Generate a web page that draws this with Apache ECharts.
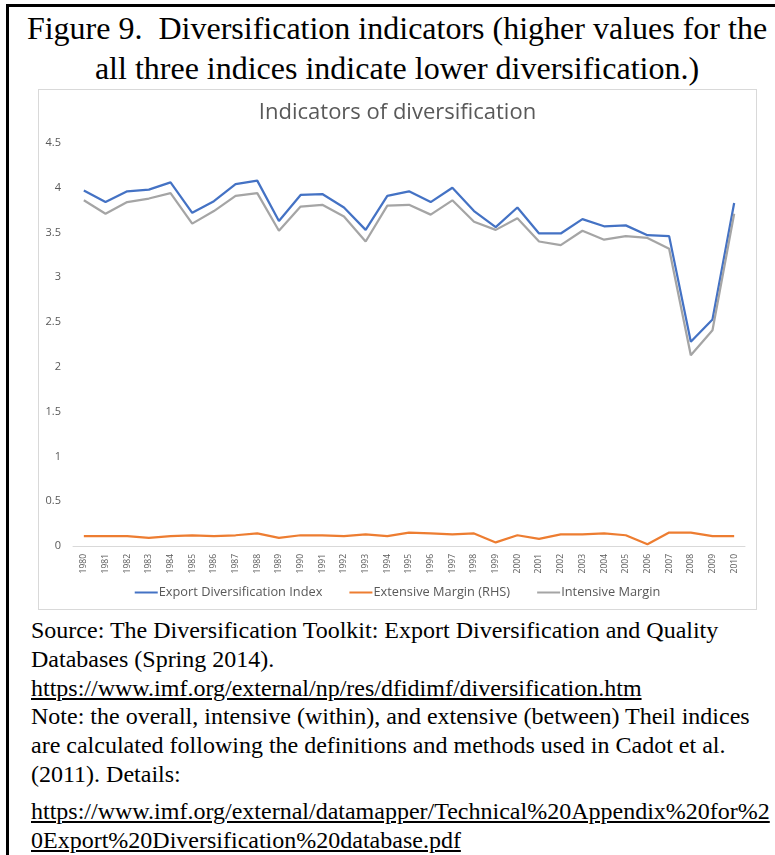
<!DOCTYPE html>
<html>
<head>
<meta charset="utf-8">
<script src="https://cdn.jsdelivr.net/npm/echarts@6/dist/echarts.min.js"></script>
<style>
  html, body { margin: 0; padding: 0; background: #fff; }
  body { width: 775px; height: 855px; position: relative; overflow: hidden; }
  #frame {
    position: absolute; left: 6px; top: 4px; width: 900px; height: 900px;
    border-left: 3px solid #000; border-top: 3px solid #000;
  }
  #heading {
    position: absolute; left: 9px; top: 8px; width: 776px;
    font-family: "Liberation Serif", "Times New Roman", serif;
    font-size: 32px; line-height: 40px; text-align: center; color: #000;
    white-space: nowrap;
  }
  #chart {
    position: absolute; left: 38px; top: 89px; width: 719px; height: 521px;
    box-sizing: border-box; border: 1px solid #d9d9d9; background: #fff;
  }
  #notes {
    position: absolute; left: 31px; top: 616px;
    font-family: "Liberation Serif", "Times New Roman", serif;
    font-size: 24px; line-height: 28.8px; color: #000; white-space: nowrap;
  }
  #notes .gap { display: block; height: 8px; }
  #notes a { color: #000; text-decoration: underline; }
</style>
</head>
<body>
<div id="frame"></div>
<div id="heading">Figure 9.&nbsp; Diversification indicators (higher values for the<br>all three indices indicate lower diversification.)</div>
<div id="chart"></div>
<div id="notes">Source: The Diversification Toolkit: Export Diversification and Quality<br>Databases (Spring 2014).<br><a>https://www.imf.org/external/np/res/dfidimf/diversification.htm</a><br>Note: the overall, intensive (within), and extensive (between) Theil indices<br>are calculated following the definitions and methods used in Cadot et al.<br>(2011). Details:<span class="gap"></span><a>https://www.imf.org/external/datamapper/Technical%20Appendix%20for%2</a><br><a>0Export%20Diversification%20database.pdf</a></div>
<script>
// Years on the category axis
const years = ['1980','1981','1982','1983','1984','1985','1986','1987','1988','1989',
  '1990','1991','1992','1993','1994','1995','1996','1997','1998','1999',
  '2000','2001','2002','2003','2004','2005','2006','2007','2008','2009','2010'];

// Overall Theil index
const exportDiversification = [3.97, 3.84, 3.96, 3.98, 4.06, 3.72, 3.85, 4.04, 4.08, 3.63,
  3.92, 3.93, 3.78, 3.53, 3.91, 3.96, 3.84, 4.00, 3.74, 3.56,
  3.78, 3.49, 3.49, 3.65, 3.57, 3.58, 3.47, 3.46, 2.28, 2.53, 3.83];

// Between-group (extensive) component
const extensiveMargin = [0.11, 0.11, 0.11, 0.09, 0.11, 0.12, 0.11, 0.12, 0.14, 0.09,
  0.12, 0.12, 0.11, 0.13, 0.11, 0.15, 0.14, 0.13, 0.14, 0.04,
  0.12, 0.08, 0.13, 0.13, 0.14, 0.12, 0.02, 0.15, 0.15, 0.11, 0.11];

// Within-group (intensive) component
const intensiveMargin = [3.86, 3.71, 3.84, 3.88, 3.94, 3.60, 3.74, 3.91, 3.94, 3.52,
  3.79, 3.81, 3.68, 3.40, 3.80, 3.81, 3.70, 3.86, 3.62, 3.53,
  3.66, 3.40, 3.36, 3.52, 3.42, 3.46, 3.44, 3.32, 2.13, 2.41, 3.71];

const seriesNames = ['Export Diversification Index', 'Extensive Margin (RHS)', 'Intensive Margin'];
const seriesColors = ['#4472C4', '#ED7D31', '#A5A5A5'];

const font = '"Open Sans", "Noto Sans", sans-serif';
const chart = echarts.init(document.getElementById('chart'), null, { renderer: 'canvas' });

chart.setOption({
  animation: false,
  color: seriesColors,
  title: {
    text: 'Indicators of diversification',
    left: 'center', top: 7,
    textStyle: { fontFamily: font, fontSize: 22, fontWeight: 'normal', color: '#595959' }
  },
  legend: {
    bottom: 5, left: 'center',
    itemWidth: 23, itemHeight: 2, itemGap: 27,
    icon: 'rect',
    textStyle: { fontFamily: font, fontSize: 12.8, color: '#595959', padding: [0, 0, 0, -4] },
    data: seriesNames
  },
  grid: { left: 34, right: 11, top: 53, bottom: 63, containLabel: false },
  xAxis: {
    type: 'category', data: years, boundaryGap: true,
    axisLine: { lineStyle: { color: '#d9d9d9', width: 1 } },
    axisTick: { show: false },
    axisLabel: { rotate: 90, fontFamily: font, fontSize: 8.5, color: '#595959', margin: 8, interval: 0 }
  },
  yAxis: {
    type: 'value', min: 0, max: 4.5, interval: 0.5,
    axisLine: { show: false }, axisTick: { show: false },
    splitLine: { show: false },
    axisLabel: { fontFamily: font, fontSize: 11, color: '#595959', margin: 12 }
  },
  series: [
    { name: seriesNames[0], type: 'line', data: exportDiversification, symbol: 'none',
      lineStyle: { width: 2.25, color: seriesColors[0] } },
    { name: seriesNames[1], type: 'line', data: extensiveMargin, symbol: 'none',
      lineStyle: { width: 2.25, color: seriesColors[1] } },
    { name: seriesNames[2], type: 'line', data: intensiveMargin, symbol: 'none',
      lineStyle: { width: 2.25, color: seriesColors[2] } }
  ]
});
</script>
</body>
</html>
